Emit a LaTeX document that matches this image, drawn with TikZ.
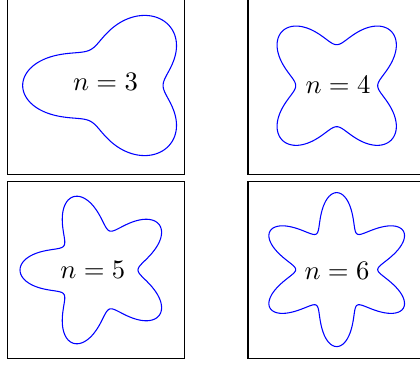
\documentclass[tikz,border=0pt]{standalone}
\usepackage{amsmath}
\usepackage{tikz}
\definecolor{curvecol}{HTML}{0000FF}

\begin{document}
\begin{tikzpicture}[
    x=0.375pt, y=-0.375pt,
    panel/.style={draw=black, line width=0.5pt},
    petal/.style={draw=curvecol, line width=0.4pt, smooth, samples=241, domain=0:360},
    tag/.style={inner sep=0pt}
  ]
  \useasboundingbox (0,0) rectangle (420,364);
  \clip (0,0) rectangle (420,364);

  % ---- Panel frames (177 x 177) ----
  \foreach \px/\py in {7.5/-2.3, 248/-2.3, 7.5/181.5, 248/181.2} {
    \draw[panel] (\px,\py) rectangle ++(177,177);
  }

  % ---- Curves r = 59 - 18 cos(n t) ----
  % the n=3 one is wider (x stretched)
  \foreach \n/\cx/\cy/\sx in {3/114.3/85.5/1.19, 4/336.7/85.7/1, 5/97/270/1, 6/336.7/269.6/1} {
    \draw[petal] plot ({\cx + \sx*(59-18*cos(\n*\x))*cos(\x)},
                       {\cy + (59-18*cos(\n*\x))*sin(\x)}) -- cycle;
  }

  % ---- Labels ----
  \foreach \n/\lx/\ly in {3/105.5/82, 4/338/85, 5/92.8/270, 6/337/271} {
    \node[tag] (tag-\n) at (\lx,\ly) {$n=\n$};
  }
\end{tikzpicture}
\end{document}
